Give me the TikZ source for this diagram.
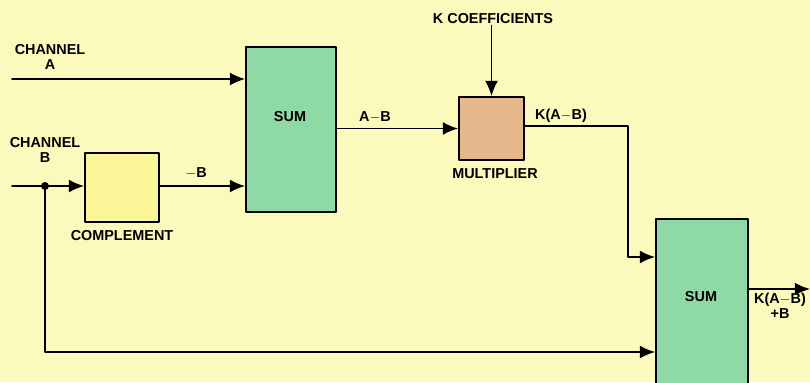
\documentclass[tikz,border=0pt]{standalone}
\usepackage{fontspec}
\setmainfont{Liberation Sans}
\usetikzlibrary{arrows.meta}
\definecolor{paper}{HTML}{FBF9BC}
\definecolor{sumgreen}{HTML}{8ED9A6}
\definecolor{compyellow}{HTML}{FCF69A}
\definecolor{multtan}{HTML}{E6B98C}
\begin{document}
\begin{tikzpicture}[x=0.03cm, y=-0.03cm, line join=round, line cap=round,
  >={Latex[length=13pt,width=11pt]},
  wire/.style={line width=1.5pt},
  blk/.style={draw, line width=1.5pt, inner sep=0pt},
  lbl/.style={font=\bfseries\fontsize{12.3}{13}\selectfont, align=center, inner sep=1pt}]
  % Fond
  \fill[paper] (0,0) rectangle (810,382);
  \useasboundingbox (0,0) rectangle (810,382);

  % Blocs
  \node[blk, fill=sumgreen, minimum width=2.7cm, minimum height=4.95cm] (sumA) at (291,129.5) {};
  \node[blk, fill=compyellow, minimum width=2.22cm, minimum height=2.07cm] (comp) at (122,187.5) {};
  \node[blk, fill=multtan, minimum width=1.95cm, minimum height=1.89cm] (mult) at (491.5,128.5) {};
  \node[blk, fill=sumgreen, minimum width=2.76cm, minimum height=4.95cm] (sumB) at (702,301.5) {};
  \node[lbl] (sumAtxt) at (290,117) {SUM};
  \node[lbl] (sumBtxt) at (701,297) {SUM};

  % Textes
  \node[lbl] (chA) at (50,57) {CHANNEL\\A};
  \node[lbl] (chB) at (45,150) {CHANNEL\\B};
  \node[lbl] (compl) at (122,236) {COMPLEMENT};
  \node[lbl] (mlbl) at (495,174) {MULTIPLIER};
  \node[lbl] (kcoef) at (493,19) {K COEFFICIENTS};
  \node[lbl] (negB) at (196,173) {$-$B};
  \node[lbl] (amb) at (375,117) {A$-$B};
  \node[lbl] (kamb) at (561,116) {K(A$-$B)};
  \node[lbl] (outl) at (780,306) {K(A$-$B)\\+B};

  % Points
  \coordinate (inA) at (12,79);
  \coordinate (inB) at (12,186);
  \coordinate (tap) at (45,186);
  \coordinate (turn) at (628,126);
  \coordinate (fb) at (45,352);
  \coordinate (outR) at (810,289);

  % Liaisons
  \draw[wire,->] (inA) -- (inA -| sumA.west);
  \draw[wire,->] (inB) -- (comp.west |- inB);
  \draw[wire,->] (comp.east |- inB) -- (sumA.west |- inB);
  \draw[wire,->] (sumA.east |- mult.west) -- (mult.west);
  \draw[wire,->] (kcoef.south -| mult.north) -- (mult.north);
  \draw[wire,->] (mult.east |- turn) -- (turn) -- (turn |- 0,257) -- (sumB.west |- 0,257);
  \draw[wire,->] (tap) -- (fb) -- (sumB.west |- fb);
  \draw[wire,->] (sumB.east |- outR) -- (outR);
  \fill (tap) circle (4);
\end{tikzpicture}
\end{document}
